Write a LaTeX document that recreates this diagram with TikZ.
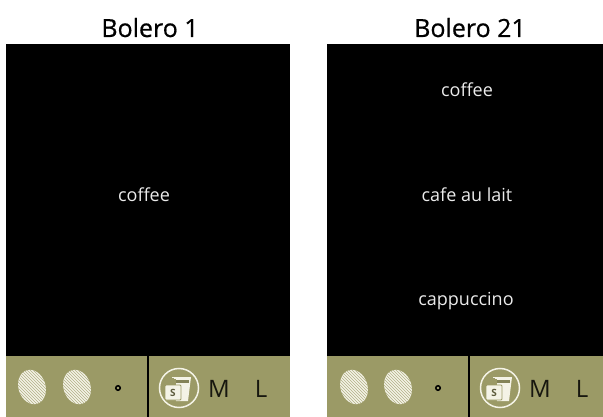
\documentclass[tikz,border=0pt]{standalone}
\usepackage{fontspec}
\setmainfont{Open Sans}
\usetikzlibrary{patterns}
\definecolor{olive}{HTML}{9B9A66}
\definecolor{bean}{HTML}{F4F3E6}
\tikzset{
  screen/.style={fill=black,draw=none},
  band/.style={fill=olive,draw=none},
  title/.style={font=\fontsize{25}{25}\selectfont\addfontfeature{FakeBold=0.6},text=black,anchor=base},
  drink/.style={font=\fontsize{18}{18}\selectfont,text=white!92!black,anchor=base},
  size/.style={font=\fontsize{24}{24}\selectfont,text=black!85!olive,anchor=base},
  divider/.style={draw=black,line width=1.8pt},
  beanshape/.style={ellipse,minimum width=27pt,minimum height=35pt,inner sep=0pt},
  hatchline/.style={draw=olive!75!bean,line width=.45pt},
  ring/.style={draw=bean,line width=1.5pt,circle,minimum size=39pt,inner sep=0pt},
}
\newcommand{\bean}[2]{%
  \begin{scope}[shift={(#1,#2)},rotate=18]
    \begin{scope}
      \clip (0,0) ellipse [x radius=13.5,y radius=17.5];
      \fill[bean] (-20,-20) rectangle (20,20);
      \begin{scope}[rotate=-18]
      \foreach \k in {-30,-27,...,30}{\draw[hatchline] (\k-25,-25) -- (\k+25,25);}
      \end{scope}
    \end{scope}
  \end{scope}}
\newcommand{\cupicon}[2]{%
  \begin{scope}[shift={(#1,#2)}]
    \draw[ring] (0,0) circle (19.5);
    \fill[bean] (-5,-11) -- (12,-11) -- (9,13) -- (-3,13) -- cycle;
    \fill[olive!85!black] (-3,-8) rectangle (10,-5);
    \fill[olive] (-9,-9) -- (-3,-9) -- (-3,-3) -- (-9,-3) -- cycle;
    \draw[bean,line width=.8pt] (-7,-11) -- (5,-11);
    \fill[bean,draw=olive,line width=.8pt,rounded corners=1pt] (-14,-3) rectangle (2,12);
    \node[font=\fontsize{10}{10}\selectfont\bfseries,text=olive!60!black,inner sep=0pt] at (-6,4.5) {S};
  \end{scope}}
\begin{document}
\begin{tikzpicture}[x=1pt,y=-1pt]
\useasboundingbox (0,0) rectangle (603,417);
\fill[white] (0,0) rectangle (603,417);
% left
\node[title] (t1) at (150,37) {Bolero 1};
\fill[screen] (6,44) rectangle (290,356);
\fill[band] (6,356) rectangle (290,417);
\node[drink] (c1) at (144,202) {coffee};
\coordinate (d1a) at (148,356); \coordinate (d1b) at (148,417);
\draw[divider] (d1a) -- (d1b);
\bean{32}{387}\bean{77}{387}
\node[draw=black,line width=1.5pt,circle,inner sep=0pt,minimum size=4.5pt] (dot1) at (118,388) {};
\cupicon{179}{388}
\node[size] (m1) at (219,397) {M};
\node[size] (l1) at (261,397) {L};
% right
\node[title] (t2) at (470,37) {Bolero 21};
\fill[screen] (327,44) rectangle (603,356);
\fill[band] (327,356) rectangle (603,417);
\node[drink] (c2) at (467,97) {coffee};
\node[drink] (c3) at (467,201) {cafe au lait};
\node[drink] (c4) at (466,305) {cappuccino};
\coordinate (d2a) at (469,356); \coordinate (d2b) at (469,417);
\draw[divider] (d2a) -- (d2b);
\bean{354}{387}\bean{398}{387}
\node[draw=black,line width=1.5pt,circle,inner sep=0pt,minimum size=4.5pt] (dot2) at (438,388) {};
\cupicon{500}{388}
\node[size] (m2) at (540,397) {M};
\node[size] (l2) at (582,397) {L};
\end{tikzpicture}
\end{document}
